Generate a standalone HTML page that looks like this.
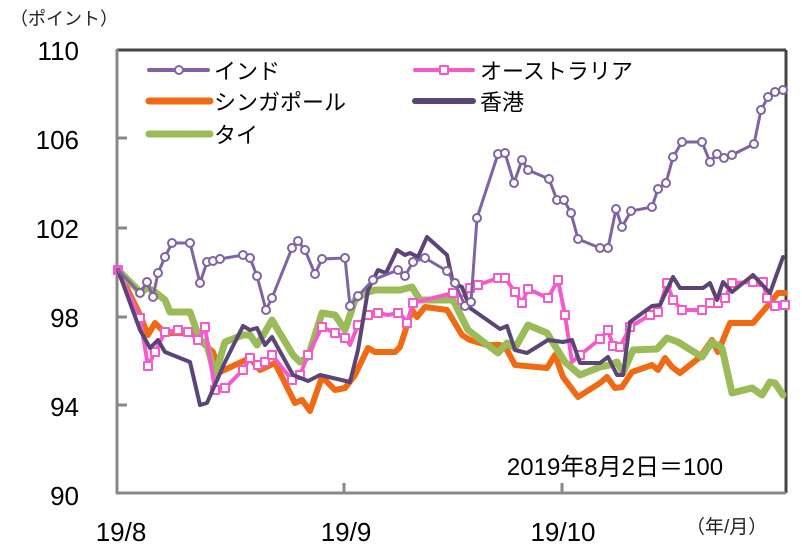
<!DOCTYPE html>
<html><head><meta charset="utf-8"><style>
body{margin:0;background:#fff;}
svg{display:block;font-family:"Liberation Sans","Noto Sans CJK JP",sans-serif;}
</style></head><body>
<svg width="802" height="556" viewBox="0 0 802 556" xmlns="http://www.w3.org/2000/svg">
<rect width="802" height="556" fill="#fff"/>
<text x="10" y="25" font-size="18" fill="#222">（ポイント）</text>
<g font-size="26" fill="#000" text-anchor="end">
<text x="79" y="60">110</text><text x="79" y="149">106</text><text x="79" y="238">102</text>
<text x="79" y="327">98</text><text x="79" y="416">94</text><text x="79" y="505">90</text>
</g>
<line x1="117" y1="50" x2="786" y2="50" stroke="#444" stroke-width="3"/>
<line x1="786" y1="50" x2="786" y2="493" stroke="#444" stroke-width="3"/>
<line x1="117" y1="49" x2="117" y2="494" stroke="#888" stroke-width="3"/>
<line x1="116" y1="493" x2="786" y2="493" stroke="#888" stroke-width="3"/>
<g stroke="#888" stroke-width="3">
<line x1="117" y1="138" x2="127" y2="138"/><line x1="117" y1="228" x2="127" y2="228"/>
<line x1="117" y1="317" x2="127" y2="317"/><line x1="117" y1="405" x2="127" y2="405"/>
<line x1="344" y1="483" x2="344" y2="493"/><line x1="562" y1="483" x2="562" y2="493"/>
</g>
<g font-size="26" fill="#000" text-anchor="middle">
<text x="121" y="541">19/8</text><text x="346" y="541">19/9</text><text x="563" y="541">19/10</text>
</g>
<text x="686" y="533" font-size="19" fill="#222">（年/月）</text>
<text x="615" y="475" font-size="24" text-anchor="middle" fill="#000">2019年8月2日＝100</text>
<g fill="none" stroke-linejoin="round" stroke-linecap="round">
<polyline stroke="#ef6a12" stroke-width="6" points="118,270 140,315 148,335 155,323 165,333 192,333 205,345 213,352 220,372 250,358 260,370 275,363 295,403 302,400 310,411 322,377 335,390 345,388 355,375 368,348 375,352 395,352 400,347 412,310 417,317 425,307 447,310 462,335 470,340 487,345 500,345 507,350 515,365 547,368 555,355 563,377 578,397 600,383 607,377 615,388 622,387 632,372 652,365 658,370 665,358 672,367 680,373 700,357 712,340 718,352 730,323 753,323 770,303 778,293 785,293"/>
<polyline stroke="#9bbb59" stroke-width="7" points="118,270 140,292 148,288 155,292 165,300 170,312 190,312 200,340 207,345 215,375 225,342 243,335 250,335 257,345 265,332 272,320 293,355 300,362 308,357 322,313 335,315 345,330 355,300 365,293 375,290 395,290 400,290 412,287 420,300 453,300 468,330 498,353 507,343 515,348 528,325 547,333 565,362 580,375 600,367 610,365 617,362 623,373 633,350 657,349 667,338 678,342 702,357 712,342 722,348 732,393 752,388 762,395 770,382 775,383 783,395"/>
<polyline stroke="#f55bc8" stroke-width="4" points="118,270 140,318 148,366 155,352 165,332 178,330 188,332 198,340 205,327 215,390 225,388 243,370 250,358 258,365 265,362 272,355 292,380 300,375 308,355 322,327 335,333 345,338 350,345 358,325 368,315 378,313 388,315 398,313 400,313 407,323 413,303 453,293 462,300 470,288 478,285 498,278 505,278 515,292 522,303 528,289 548,298 558,280 565,315 572,362 580,355 600,339 608,330 613,346 620,347 630,327 650,315 658,312 667,283 673,300 682,310 702,310 710,303 718,303 725,298 732,283 753,282 763,282 767,298 775,306 785,305"/>
<g fill="#fff" stroke="#f55bc8" stroke-width="2">
<rect x="114" y="266" width="8" height="8" fill="#f55bc8"/>
<rect x="136" y="314" width="8" height="8"/><rect x="144" y="362" width="8" height="8"/><rect x="151" y="348" width="8" height="8"/><rect x="161" y="328" width="8" height="8"/><rect x="174" y="326" width="8" height="8"/><rect x="184" y="328" width="8" height="8"/><rect x="194" y="336" width="8" height="8"/><rect x="201" y="323" width="8" height="8"/><rect x="211" y="386" width="8" height="8"/><rect x="221" y="384" width="8" height="8"/><rect x="239" y="366" width="8" height="8"/><rect x="246" y="354" width="8" height="8"/><rect x="254" y="361" width="8" height="8"/><rect x="261" y="358" width="8" height="8"/><rect x="268" y="351" width="8" height="8"/><rect x="288" y="376" width="8" height="8"/><rect x="296" y="371" width="8" height="8"/><rect x="304" y="351" width="8" height="8"/><rect x="318" y="323" width="8" height="8"/><rect x="331" y="329" width="8" height="8"/><rect x="341" y="334" width="8" height="8"/><rect x="354" y="321" width="8" height="8"/><rect x="364" y="311" width="8" height="8"/><rect x="374" y="309" width="8" height="8"/><rect x="394" y="309" width="8" height="8"/><rect x="403" y="319" width="8" height="8"/><rect x="409" y="299" width="8" height="8"/><rect x="449" y="289" width="8" height="8"/><rect x="458" y="296" width="8" height="8"/><rect x="466" y="284" width="8" height="8"/><rect x="474" y="281" width="8" height="8"/><rect x="494" y="274" width="8" height="8"/><rect x="501" y="274" width="8" height="8"/><rect x="511" y="288" width="8" height="8"/><rect x="518" y="299" width="8" height="8"/><rect x="524" y="285" width="8" height="8"/><rect x="544" y="294" width="8" height="8"/><rect x="554" y="276" width="8" height="8"/><rect x="561" y="311" width="8" height="8"/><rect x="576" y="351" width="8" height="8"/><rect x="596" y="335" width="8" height="8"/><rect x="604" y="326" width="8" height="8"/><rect x="609" y="342" width="8" height="8"/><rect x="616" y="343" width="8" height="8"/><rect x="626" y="323" width="8" height="8"/><rect x="646" y="311" width="8" height="8"/><rect x="654" y="308" width="8" height="8"/><rect x="663" y="279" width="8" height="8"/><rect x="669" y="296" width="8" height="8"/><rect x="678" y="306" width="8" height="8"/><rect x="698" y="306" width="8" height="8"/><rect x="706" y="299" width="8" height="8"/><rect x="714" y="299" width="8" height="8"/><rect x="721" y="294" width="8" height="8"/><rect x="728" y="279" width="8" height="8"/><rect x="749" y="278" width="8" height="8"/><rect x="759" y="278" width="8" height="8"/><rect x="763" y="294" width="8" height="8"/><rect x="771" y="302" width="8" height="8"/><rect x="781" y="301" width="8" height="8"/>
</g>
<polyline stroke="#5b4576" stroke-width="4" points="118,270 140,330 150,348 158,340 165,352 190,362 200,405 207,403 225,362 243,326 250,330 257,328 265,345 272,337 293,375 308,381 320,375 350,382 358,350 368,290 378,270 386,273 397,250 405,255 410,253 418,257 427,237 447,255 453,283 462,287 470,308 500,329 507,326 515,350 527,353 548,340 563,342 572,340 580,363 600,363 608,357 617,375 623,375 630,322 652,306 660,305 673,277 680,288 703,288 710,283 717,300 723,282 732,292 753,275 770,293 783,257"/>
<polyline stroke="#8064a2" stroke-width="3" points="118,270 140,293 147,282 153,297 158,273 165,257 172,243 190,243 200,283 207,262 213,261 220,259 243,255 250,258 257,276 266,310 272,298 292,248 298,241 305,250 315,274 322,259 345,258 350,306 358,296 373,280 398,270 405,276 413,262 425,258 447,271 455,283 465,306 471,302 477,218 498,154 505,153 514,183 522,160 528,170 549,179 557,200 564,200 571,213 578,239 600,248 608,248 616,209 622,227 631,211 652,207 658,189 666,183 673,157 682,142 702,142 710,162 717,154 724,158 732,155 754,144 761,110 768,97 775,92 783,90"/>
<g fill="#fff" stroke="#8064a2" stroke-width="2">
<circle cx="140" cy="293" r="4"/><circle cx="147" cy="282" r="4"/><circle cx="153" cy="297" r="4"/><circle cx="158" cy="273" r="4"/><circle cx="165" cy="257" r="4"/><circle cx="172" cy="243" r="4"/><circle cx="190" cy="243" r="4"/><circle cx="200" cy="283" r="4"/><circle cx="207" cy="262" r="4"/><circle cx="213" cy="261" r="4"/><circle cx="220" cy="259" r="4"/><circle cx="243" cy="255" r="4"/><circle cx="250" cy="258" r="4"/><circle cx="257" cy="276" r="4"/><circle cx="266" cy="310" r="4"/><circle cx="272" cy="298" r="4"/><circle cx="292" cy="248" r="4"/><circle cx="298" cy="241" r="4"/><circle cx="305" cy="250" r="4"/><circle cx="315" cy="274" r="4"/><circle cx="322" cy="259" r="4"/><circle cx="345" cy="258" r="4"/><circle cx="350" cy="306" r="4"/><circle cx="358" cy="296" r="4"/><circle cx="373" cy="280" r="4"/><circle cx="398" cy="270" r="4"/><circle cx="405" cy="276" r="4"/><circle cx="413" cy="262" r="4"/><circle cx="425" cy="258" r="4"/><circle cx="447" cy="271" r="4"/><circle cx="455" cy="283" r="4"/><circle cx="465" cy="306" r="4"/><circle cx="471" cy="302" r="4"/><circle cx="477" cy="218" r="4"/><circle cx="498" cy="154" r="4"/><circle cx="505" cy="153" r="4"/><circle cx="514" cy="183" r="4"/><circle cx="522" cy="160" r="4"/><circle cx="528" cy="170" r="4"/><circle cx="549" cy="179" r="4"/><circle cx="557" cy="200" r="4"/><circle cx="564" cy="200" r="4"/><circle cx="571" cy="213" r="4"/><circle cx="578" cy="239" r="4"/><circle cx="600" cy="248" r="4"/><circle cx="608" cy="248" r="4"/><circle cx="616" cy="209" r="4"/><circle cx="622" cy="227" r="4"/><circle cx="631" cy="211" r="4"/><circle cx="652" cy="207" r="4"/><circle cx="658" cy="189" r="4"/><circle cx="666" cy="183" r="4"/><circle cx="673" cy="157" r="4"/><circle cx="682" cy="142" r="4"/><circle cx="702" cy="142" r="4"/><circle cx="710" cy="162" r="4"/><circle cx="717" cy="154" r="4"/><circle cx="724" cy="158" r="4"/><circle cx="732" cy="155" r="4"/><circle cx="754" cy="144" r="4"/><circle cx="761" cy="110" r="4"/><circle cx="768" cy="97" r="4"/><circle cx="775" cy="92" r="4"/><circle cx="783" cy="90" r="4"/>
</g>
<!-- legend -->
<line x1="149" y1="70" x2="208" y2="70" stroke="#8064a2" stroke-width="4"/>
<circle cx="179" cy="70" r="4" fill="#fff" stroke="#8064a2" stroke-width="2"/>
<line x1="149" y1="101" x2="210" y2="101" stroke="#ef6a12" stroke-width="7"/>
<line x1="149" y1="134" x2="210" y2="134" stroke="#9bbb59" stroke-width="7"/>
<line x1="415" y1="70" x2="473" y2="70" stroke="#f55bc8" stroke-width="4"/>
<rect x="440" y="66" width="8" height="8" fill="#fff" stroke="#f55bc8" stroke-width="2"/>
<line x1="415" y1="101" x2="473" y2="101" stroke="#5b4576" stroke-width="6"/>
</g>
<g font-size="22" fill="#000">
<text x="214" y="79">インド</text><text x="214" y="110">シンガポール</text><text x="214" y="143">タイ</text>
<text x="480" y="79">オーストラリア</text><text x="480" y="110">香港</text>
</g>
</svg>
</body></html>
